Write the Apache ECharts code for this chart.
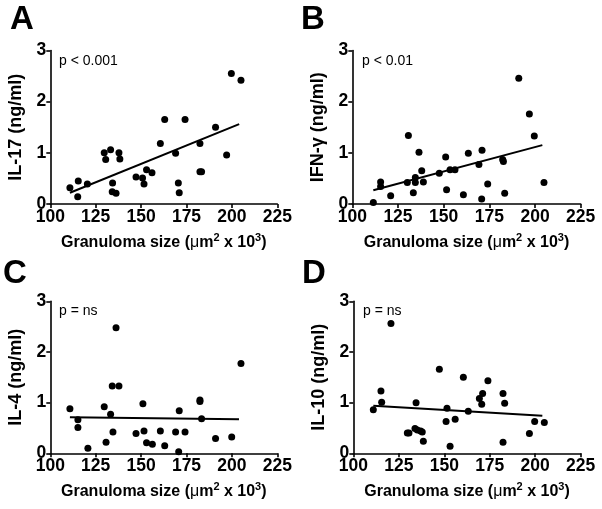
<!DOCTYPE html>
<html>
<head>
<meta charset="utf-8">
<script src="https://cdn.jsdelivr.net/npm/echarts@6/dist/echarts.min.js"></script>
<style>
html,body{margin:0;padding:0;background:#fff;}
#chart{width:602px;height:509px;}
</style>
</head>
<body>
<div id="chart"></div>
<script>
// ---- Data ----
const xTicks = [100, 125, 150, 175, 200, 225];
const yTicks = [0, 1, 2, 3];
const xTitle = '{b|Granuloma size (}{m|μ}{b|m}{s|2}{b| x 10}{s|3}{b|)}';
const panelLetters = ['A', 'B', 'C', 'D'];
const yTitles = ['IL-17 (ng/ml)', 'IFN-γ (ng/ml)', 'IL-4 (ng/ml)', 'IL-10 (ng/ml)'];
const pLabels = ['p < 0.001', 'p < 0.01', 'p = ns', 'p = ns'];

// Panel A: IL-17
const il17X = [110.8,115.4,115.1,120.4,129.7,130.5,133.2,137.8,138.3,134.3,134.1,136.2,147.2,150.8,151.6,153,156,160.6,163,169,170.5,171,174.2,182.4,182.4,183.3,191,197.1,199.7,205];
const il17Y = [0.32,0.45,0.14,0.39,1.0,0.87,1.06,1.0,0.88,0.41,0.24,0.21,0.53,0.51,0.39,0.67,0.61,1.18,1.65,0.99,0.41,0.22,1.65,1.18,0.63,0.63,1.5,0.96,2.55,2.42];
const il17FitX = [110.8, 204];
const il17FitY = [0.22, 1.56];

// Panel B: IFN-gamma
const ifnX = [111.5,115.5,115.5,121,130.1,130.7,133.4,134.5,134.5,136.5,138,138.9,147.6,151.1,151.6,153.5,156.2,160.8,163.5,169.3,170.8,171,174.1,182.3,182.7,183.4,191.1,196.9,199.6,204.9];
const ifnY = [0.03,0.43,0.34,0.16,0.42,1.34,0.22,0.52,0.42,1.01,0.65,0.43,0.60,0.92,0.28,0.67,0.67,0.18,0.99,0.77,0.10,1.05,0.39,0.87,0.83,0.21,2.46,1.76,1.33,0.42];
const ifnFitX = [111.5, 204];
const ifnFitY = [0.27, 1.15];

// Panel C: IL-4
const il4X = [110.8,115.2,115.2,120.7,129.7,130.7,133.2,134.1,134.5,136.2,137.8,147.2,151,151.6,153,156.2,160.6,163,169,170.7,171,174.2,182.4,182.4,183.3,191,199.9,205];
const il4Y = [0.88,0.66,0.51,0.10,0.92,0.22,0.77,1.33,0.42,2.48,1.33,0.39,0.98,0.44,0.21,0.18,0.44,0.15,0.42,0.03,0.84,0.42,1.05,1.02,0.68,0.29,0.32,1.77];
const il4FitX = [110.8, 203.9];
const il4FitY = [0.71, 0.67];

// Panel D: IL-10
const il10X = [111,115.2,115.6,120.7,129.7,130.6,133.9,134.5,135.2,137,137.9,138.5,147.3,151,151.5,153.2,156,160.5,163.2,169.3,170.6,171.1,174,182.3,182.3,183.2,196.8,199.7,205];
const il10Y = [0.86,1.23,1.01,2.56,0.40,0.40,0.49,1.00,0.46,0.44,0.42,0.24,1.66,0.63,0.89,0.14,0.67,1.50,0.83,1.08,0.97,1.18,1.43,1.18,0.22,0.99,0.39,0.63,0.61];
const il10FitX = [111, 203.9];
const il10FitY = [0.94, 0.74];

// ---- Layout ----
const grids = [
  {left: 50.3, top: 50.5, width: 227, height: 153.5},
  {left: 352.3, top: 50.5, width: 228.4, height: 153.5},
  {left: 50.3, top: 301.3, width: 227, height: 152},
  {left: 353.3, top: 301.3, width: 227.4, height: 152}
];
const letterPos = [[10, 20], [301, 20], [3, 274], [302, 274]];
const pPos = [[59, 61], [362, 61], [59, 311], [363, 311]];

const panels = [
  [il17X, il17Y, il17FitX, il17FitY],
  [ifnX, ifnY, ifnFitX, ifnFitY],
  [il4X, il4Y, il4FitX, il4FitY],
  [il10X, il10Y, il10FitX, il10FitY]
];
const zip = (a, b) => a.map((v, i) => [v, b[i]]);
const FF = '"Liberation Sans", Arial, sans-serif';

const axisCommon = {
  axisLine: {show: true, onZero: false, lineStyle: {color: '#000', width: 1.6}},
  axisTick: {show: true, inside: false, length: 4, lineStyle: {color: '#000', width: 1.6}},
  splitLine: {show: false},
  axisLabel: {color: '#000', fontFamily: FF, fontWeight: 'bold', fontSize: 17.5, margin: 4}
};

const option = {
  animation: false,
  backgroundColor: '#fff',
  grid: grids.map(g => Object.assign({containLabel: false}, g)),
  xAxis: grids.map((g, i) => Object.assign({}, axisCommon, {
    type: 'value', gridIndex: i, min: xTicks[0], max: xTicks[xTicks.length - 1], interval: xTicks[1] - xTicks[0],
    name: xTitle, nameLocation: 'middle', nameGap: 28,
    nameTextStyle: {
      color: '#000', fontFamily: FF, fontWeight: 'bold', fontSize: 16,
      rich: {
        b: {color: '#000', fontFamily: FF, fontWeight: 'bold', fontSize: 16},
        m: {color: '#000', fontFamily: FF, fontWeight: 'normal', fontSize: 16},
        s: {color: '#000', fontFamily: FF, fontWeight: 'bold', fontSize: 11, padding: [0, 0, 10, 0]}
      }
    }
  })),
  yAxis: grids.map((g, i) => Object.assign({}, axisCommon, {
    type: 'value', gridIndex: i, min: yTicks[0], max: yTicks[yTicks.length - 1], interval: yTicks[1] - yTicks[0],
    name: yTitles[i], nameLocation: 'middle', nameGap: 25, nameRotate: 90,
    nameTextStyle: {color: '#000', fontFamily: FF, fontWeight: 'bold', fontSize: 18}
  })),
  series: [],
  graphic: []
};

panels.forEach((p, i) => {
  option.series.push({
    type: 'scatter', xAxisIndex: i, yAxisIndex: i, data: zip(p[0], p[1]),
    symbol: 'circle', symbolSize: 7, itemStyle: {color: '#000', opacity: 1}, silent: true
  });
  option.series.push({
    type: 'line', xAxisIndex: i, yAxisIndex: i, data: zip(p[2], p[3]),
    symbol: 'none', lineStyle: {color: '#000', width: 2}, silent: true
  });
  option.graphic.push({
    type: 'text', x: letterPos[i][0], y: letterPos[i][1],
    style: {text: panelLetters[i], fill: '#000', font: 'bold 33px ' + FF, verticalAlign: 'middle'}
  });
  option.graphic.push({
    type: 'text', x: pPos[i][0], y: pPos[i][1],
    style: {text: pLabels[i], fill: '#000', font: '14px ' + FF, verticalAlign: 'middle'}
  });
});

const chart = echarts.init(document.getElementById('chart'), null, {renderer: 'canvas'});
chart.setOption(option);
</script>
</body>
</html>
